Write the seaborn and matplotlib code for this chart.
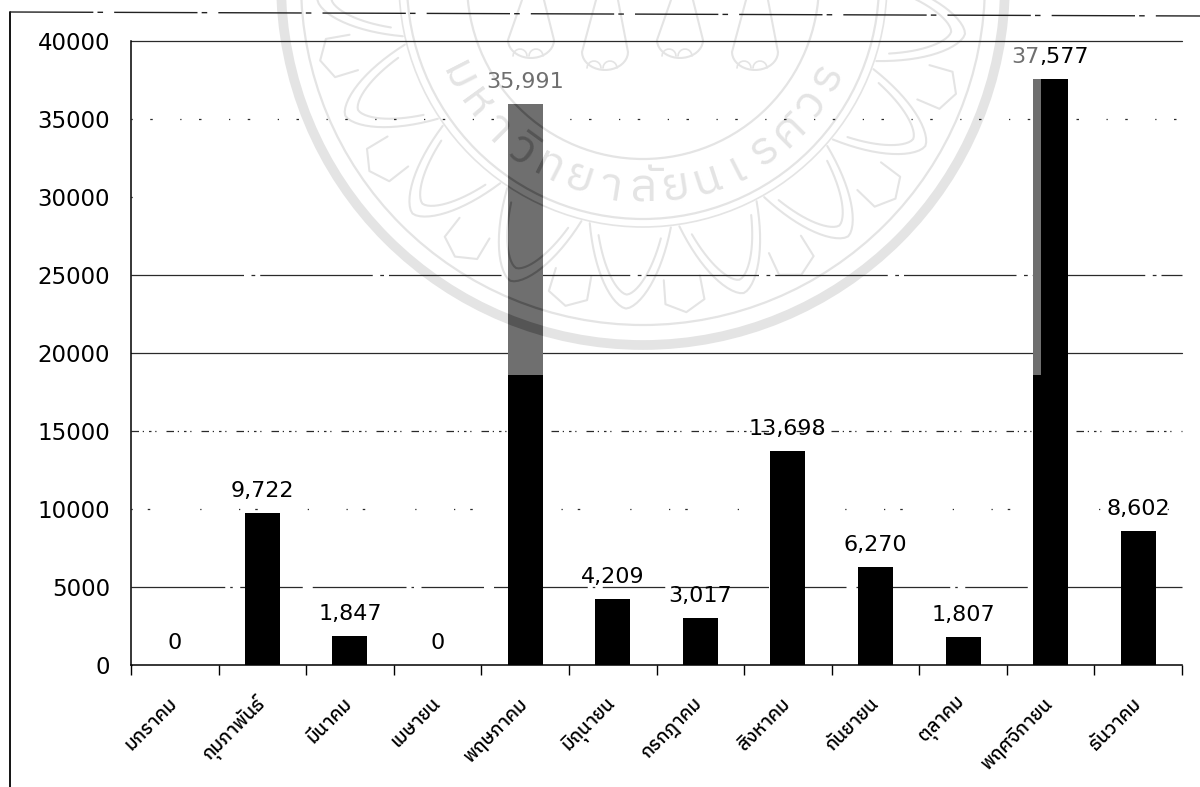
import logging
import numpy as np
import matplotlib
matplotlib.use("Agg")
import matplotlib.pyplot as plt
import seaborn as sns
from matplotlib.lines import Line2D
from matplotlib.patches import Circle, Rectangle

logging.getLogger("matplotlib.font_manager").setLevel(logging.ERROR)

months = ["มกราคม", "กุมภาพันธ์", "มีนาคม", "เมษายน", "พฤษภาคม", "มิถุนายน",
          "กรกฎาคม", "สิงหาคม", "กันยายน", "ตุลาคม", "พฤศจิกายน", "ธันวาคม"]
totals = [0, 9722, 1847, 0, 35991, 4209, 3017, 13698, 6270, 1807, 37577, 8602]
yticks = [0, 5000, 10000, 15000, 20000, 25000, 30000, 35000, 40000]
may_idx, nov_idx = 4, 10
shade_from = 18600
seal_text = ["ม", "ห", "า", "วิ", "ท", "ย", "า", "ลั", "ย", "น", "เ", "ร", "ศ", "ว", "ร"]

W, H = 1200, 787
GRAY = "#6f6f6f"
THAI = ["IBM Plex Sans Thai", "Sarabun", "Noto Sans Thai", "Kanit", "DejaVu Sans"]

sns.set_theme(style="white")
plt.rcParams["font.family"] = THAI


def draw_seal(target, color, clip=None):
    # university seal behind the chart, in pixel coords
    cx, cy = 643, -17
    arts = []
    for r, lw in [(362, 7), (342, 1.6), (176, 1.6), (236, 1.6), (244, 1.2)]:
        arts.append(target.add_patch(Circle((cx, cy), r, fill=False, ec=color, lw=lw)))
    for deg in np.arange(-12, 193, 21):
        for tip, base, half in [(326, 246, 9.5), (312, 256, 7.0)]:
            t = np.linspace(-1, 1, 31)
            r = base + (tip - base) * (1 - np.abs(t) ** 1.6)
            a = np.radians(deg + half * t)
            arts += target.plot(cx + r * np.cos(a), cy + r * np.sin(a), color=color, lw=1.5)
        # small petal behind, between the big ones
        a = np.radians(deg + 10.5 + np.array([-3.5, -3.5, 0, 3.5, 3.5]))
        r = np.array([298, 322, 332, 322, 298])
        arts += target.plot(cx + r * np.cos(a), cy + r * np.sin(a), color=color, lw=1.5)
    # elephant legs at the top
    for x0, y0 in [(508, 40), (582, 52), (657, 40), (732, 52)]:
        t = np.linspace(0, np.pi, 20)
        xs = np.r_[x0 + 14, x0, x0 + 23 - 23 * np.cos(t), x0 + 46, x0 + 36]
        ys = np.r_[0, y0, y0 + 18 * np.sin(t), y0, 0]
        arts += target.plot(xs, ys, color=color, lw=1.5)
        for toe in [x0 + 12, x0 + 28]:
            t2 = np.linspace(np.pi, 2 * np.pi, 10)
            arts += target.plot(toe + 7 * np.cos(t2), y0 + 16 + 7 * np.sin(t2), color=color, lw=1.2)
    for i, ch in enumerate(seal_text):
        deg = 153 - i * 126 / (len(seal_text) - 1)
        a = np.radians(deg)
        arts.append(target.text(cx + 206 * np.cos(a), cy + 206 * np.sin(a), ch, color=color,
                                fontsize=34, ha="center", va="center",
                                rotation=90 - deg, rotation_mode="anchor"))
    if clip is not None:
        for art in arts:
            art.set_clip_on(True)
            art.set_clip_path(clip)


fig = plt.figure(figsize=(W / 100, H / 100), dpi=100, facecolor="white")

bg = fig.add_axes([0, 0, 1, 1], zorder=0)
bg.set_xlim(0, W)
bg.set_ylim(H, 0)
bg.axis("off")
draw_seal(bg, "#e4e4e4")

ax = fig.add_axes([131 / W, 1 - 665 / H, (1182 - 131) / W, (665 - 41) / H], zorder=1)
ax.patch.set_alpha(0)

sns.barplot(x=months, y=totals, color="black", width=0.4, saturation=1, linewidth=0, ax=ax, zorder=3)
ax.bar(may_idx, totals[may_idx] - shade_from, 0.4, bottom=shade_from, color=GRAY, linewidth=0, zorder=4)
ax.bar(nov_idx - 0.2 + 0.046, totals[nov_idx] - shade_from, 0.092, bottom=shade_from, color=GRAY,
       linewidth=0, zorder=4)

ax.set_xlim(-0.5, 11.5)
ax.set_ylim(0, 40000)
ax.set_yticks(yticks)
ax.set_ylabel("")
ax.set_xlabel("")
for s in ["top", "right"]:
    ax.spines[s].set_visible(False)
for s in ["left", "bottom"]:
    ax.spines[s].set_color("black")
    ax.spines[s].set_linewidth(1.1)

ax.tick_params(axis="y", length=6, width=1, pad=9, colors="black")
for lab in ax.get_yticklabels():
    lab.set_fontfamily("DejaVu Sans")
    lab.set_fontsize(16.5)

# tick marks sit between the categories, labels under the centres
ax.set_xticks(np.arange(13) - 0.5, minor=True)
ax.tick_params(axis="x", which="minor", bottom=True, length=7, width=1, color="black")
ax.tick_params(axis="x", which="major", bottom=False, length=0, pad=26)
ax.set_xticks(range(12))
ax.set_xticklabels(months, rotation=45, ha="right", va="center", rotation_mode="anchor",
                   fontsize=13.5, fontweight=500, color="black")

# scan-broken gridlines
ax.grid(axis="y", color="#2a2a2a", lw=0.9, zorder=1)
styles = [(0, (1, 1000)),
          (0, (75, 4, 2, 6, 50, 8)),
          (0, (1, 12, 2, 40, 1, 30)),
          (0, (6, 3, 1, 4, 2, 3, 1, 8)),
          "-",
          (0, (90, 6, 3, 4)),
          (0, (1, 1000)),
          (0, (1, 14, 2, 22)),
          "-"]
for line, st in zip(ax.yaxis.get_gridlines(), styles):
    line.set_linestyle(st)
    line.set_clip_on(False)

for i, v in enumerate(totals):
    if i == nov_idx:
        ax.annotate("37", (i, v), xytext=(-8, 11.5), textcoords="offset points", ha="right", va="baseline",
                    fontsize=16, color=GRAY, family="DejaVu Sans", zorder=5)
        ax.annotate(",577", (i, v), xytext=(-8, 11.5), textcoords="offset points", ha="left", va="baseline",
                    fontsize=16, color="black", family="DejaVu Sans", zorder=5)
        continue
    ax.annotate(f"{v:,}", (i, v), xytext=(0, 11.5), textcoords="offset points", ha="center", va="baseline",
                fontsize=16, color=GRAY if i == may_idx else "black", family="DejaVu Sans", zorder=5)

# seal showing through the shaded part of the may bar
fg = fig.add_axes([0, 0, 1, 1], zorder=2)
fg.set_xlim(0, W)
fg.set_ylim(H, 0)
fg.axis("off")
clip = Rectangle((may_idx - 0.2, shade_from), 0.4, totals[may_idx] - shade_from, transform=ax.transData)
draw_seal(fg, "#555555", clip=clip)

# page frame from the scan
fig.add_artist(Line2D([10 / W, 10 / W], [0, 1 - 12 / H], color="black", lw=1.3))
fig.add_artist(Line2D([10 / W, 1], [1 - 12 / H, 1 - 16 / H], color="#222222", lw=1.0, ls=(0, (60, 3, 4, 8))))

fig.savefig("out.png", dpi=100)
